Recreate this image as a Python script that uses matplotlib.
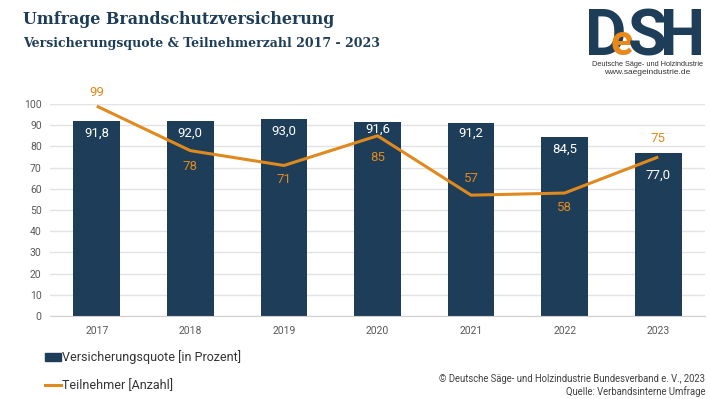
import matplotlib

matplotlib.use("Agg")
import matplotlib.pyplot as plt
from matplotlib.lines import Line2D
from matplotlib.patches import Patch

# --- data ---------------------------------------------------------------
years = ["2017", "2018", "2019", "2020", "2021", "2022", "2023"]
quote = [91.8, 92.0, 93.0, 91.6, 91.2, 84.5, 77.0]  # Versicherungsquote in %
teilnehmer = [99, 78, 71, 85, 57, 58, 75]  # Anzahl Teilnehmer
# -------------------------------------------------------------------------

# label offsets in pixels (label placement only, not data)
quote_label_dy = [-12, -12, -12, -7, -11, -12, -23]
teiln_label_dy = [14, -16, -14, -22, 17, -14, 19]

BLUE = "#1e3d58"
ORANGE = "#e0891e"
GRID = "#e3e3e3"
TICK = "#595959"
PT = 0.72  # points per pixel at dpi 100

plt.rcParams["font.family"] = ["Roboto", "DejaVu Sans"]

fig = plt.figure(figsize=(7.1, 3.99), dpi=100)
ax = fig.add_axes([50 / 710, 1 - 316 / 399, 655 / 710, 212 / 399])

x = range(len(years))
ax.bar(x, quote, width=0.5, color=BLUE, zorder=2)
ax.plot(x, teilnehmer, color=ORANGE, lw=2.2, zorder=3, solid_capstyle="butt")

for i, (v, dy) in enumerate(zip(quote, quote_label_dy)):
    ax.annotate(f"{v:.1f}".replace(".", ","), (i, v), xytext=(0, dy * PT),
                textcoords="offset points", ha="center", va="center",
                color="white", fontsize=9.5, zorder=4)
for i, (v, dy) in enumerate(zip(teilnehmer, teiln_label_dy)):
    ax.annotate(str(v), (i, v), xytext=(0, dy * PT),
                textcoords="offset points", ha="center", va="center",
                color=ORANGE, fontsize=9.5, zorder=4, annotation_clip=False)

ax.set_xlim(-0.5, len(years) - 0.5)
ax.set_ylim(0, 100)
ax.set_yticks(range(0, 101, 10))
ax.set_xticks(list(x))
ax.set_xticklabels(years)
ax.grid(axis="y", color=GRID, lw=1, zorder=0)
for side in ("top", "right", "left"):
    ax.spines[side].set_visible(False)
ax.spines["bottom"].set_color("#d0d0d0")
ax.tick_params(length=0, colors=TICK, labelsize=7.5)
ax.tick_params(axis="x", pad=7)
ax.tick_params(axis="y", pad=6)

# titles
fig.text(23 / 710, 1 - 19 / 399, "Umfrage Brandschutzversicherung", family="DejaVu Serif",
         weight="bold", fontsize=11.4, color=BLUE, va="center")
fig.text(23 / 710, 1 - 43 / 399, "Versicherungsquote & Teilnehmerzahl 2017 - 2023",
         family="DejaVu Serif", weight="bold", fontsize=9, color=BLUE, va="center")

# logo
logo_font = ["Liberation Sans Narrow", "Roboto"]
fig.text(606 / 710, 1 - 55 / 399, "D", family=logo_font, weight="bold", fontsize=46,
         color=BLUE, ha="center", va="baseline")
fig.text(622 / 710, 1 - 55 / 399, "e", family=logo_font, weight="bold", fontsize=30,
         color="#e8891a", ha="center", va="baseline")
fig.text(647 / 710, 1 - 55 / 399, "S", family=logo_font, weight="bold", fontsize=46,
         color=BLUE, ha="center", va="baseline")
fig.text(683 / 710, 1 - 55 / 399, "H", family=logo_font, weight="bold", fontsize=46,
         color=BLUE, ha="center", va="baseline")
fig.text(647 / 710, 1 - 64 / 399, "Deutsche Säge- und Holzindustrie", family="Liberation Sans",
         fontsize=5.3, color="#333333", ha="center", va="center")
fig.text(647 / 710, 1 - 73 / 399, "www.saegeindustrie.de", family="Liberation Sans",
         fontsize=6, color="#333333", ha="center", va="center")

# legend
handles = [Patch(facecolor=BLUE, edgecolor=BLUE),
           Line2D([], [], color=ORANGE, lw=2.2)]
fig.legend(handles, ["Versicherungsquote [in Prozent]", "Teilnehmer [Anzahl]"],
           loc="upper left", bbox_to_anchor=(45 / 710, 1 - 350 / 399), frameon=False,
           fontsize=9, handlelength=1.25, handleheight=0.6, handletextpad=0.15,
           labelspacing=1.2, labelcolor="#333333", borderaxespad=0, borderpad=0)

# footer
fig.text(705 / 710, 1 - 379 / 399, "© Deutsche Säge- und Holzindustrie Bundesverband e. V., 2023",
         fontsize=6.85, color="#404040", ha="right", va="center")
fig.text(705 / 710, 1 - 392 / 399, "Quelle: Verbandsinterne Umfrage",
         fontsize=6.85, color="#404040", ha="right", va="center")

fig.savefig("out.png", dpi=100, facecolor="white")
